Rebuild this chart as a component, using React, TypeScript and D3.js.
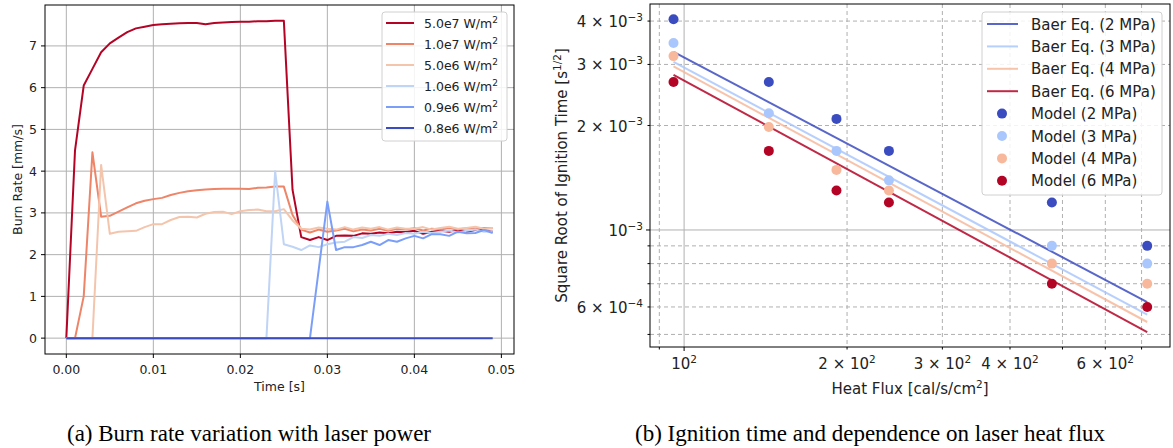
import React from "react";
import * as d3 from "d3";

// ---- (a) burn rate vs time ----
const times = d3.range(50).map((i) => i * 0.001);
const powerLabels = ["5.0e7", "1.0e7", "5.0e6", "1.0e6", "0.9e6", "0.8e6"];
const powerColors = ["#b40426", "#ee8468", "#f4c5ad", "#c0d4f5", "#7b9ff9", "#3b4cc0"];

const rate5e7 = [0, 4.5, 6.05, 6.45, 6.85, 7.06, 7.2, 7.33, 7.42, 7.46, 7.5, 7.52, 7.53, 7.54, 7.55, 7.55, 7.52, 7.55, 7.56, 7.57,
  7.58, 7.58, 7.59, 7.59, 7.6, 7.6, 3.55, 2.42, 2.35, 2.42, 2.35, 2.45, 2.46, 2.45, 2.51, 2.5, 2.53, 2.51, 2.55, 2.54,
  2.57, 2.5, 2.55, 2.57, 2.55, 2.59, 2.55, 2.59, 2.59, 2.55];
const rate1e7 = [0, 0, 1.0, 4.45, 2.91, 2.93, 3.03, 3.13, 3.23, 3.29, 3.33, 3.36, 3.43, 3.48, 3.52, 3.54, 3.56, 3.57, 3.58, 3.58,
  3.58, 3.57, 3.6, 3.61, 3.63, 3.63, 2.95, 2.6, 2.53, 2.6, 2.55, 2.58, 2.62, 2.56, 2.6, 2.58, 2.62, 2.57, 2.62, 2.6,
  2.63, 2.58, 2.62, 2.6, 2.64, 2.6, 2.63, 2.62, 2.64, 2.63];
const rate5e6 = [0, 0, 0, 0, 4.15, 2.5, 2.55, 2.56, 2.57, 2.66, 2.73, 2.73, 2.83, 2.9, 2.91, 2.89, 2.98, 3.02, 3.03, 2.97,
  3.04, 3.07, 3.08, 3.04, 3.04, 3.09, 2.82, 2.62, 2.6, 2.65, 2.62, 2.6, 2.66, 2.6, 2.65, 2.62, 2.66, 2.6, 2.65, 2.62,
  2.62, 2.66, 2.6, 2.64, 2.67, 2.62, 2.64, 2.67, 2.62, 2.64];
const rate1e6 = [0, 0, 0, 0, 0, 0, 0, 0, 0, 0, 0, 0, 0, 0, 0, 0, 0, 0, 0, 0,
  0, 0, 0, 0, 4.0, 2.25, 2.19, 2.11, 2.22, 2.18, 2.25, 2.29, 2.31, 2.42, 2.4, 2.47, 2.45, 2.5, 2.47, 2.52,
  2.5, 2.55, 2.52, 2.55, 2.58, 2.53, 2.57, 2.6, 2.55, 2.56];
const rate09e6 = [0, 0, 0, 0, 0, 0, 0, 0, 0, 0, 0, 0, 0, 0, 0, 0, 0, 0, 0, 0,
  0, 0, 0, 0, 0, 0, 0, 0, 0, 1.63, 3.27, 2.11, 2.18, 2.18, 2.23, 2.31, 2.23, 2.35, 2.31, 2.39,
  2.45, 2.39, 2.49, 2.49, 2.45, 2.55, 2.51, 2.52, 2.59, 2.52];
const rate08e6 = times.map(() => 0);
const rateSeries = [rate5e7, rate1e7, rate5e6, rate1e6, rate09e6, rate08e6];

// ---- (b) ignition time vs heat flux ----
const heatFlux = [95.6, 143.4, 191.2, 239, 478, 717];
const pressures = ["2 MPa", "3 MPa", "4 MPa", "6 MPa"];
const pressColors = ["#3b4cc0", "#aac7fd", "#f7b89c", "#b40426"];
const model2 = [4.05e-3, 2.67e-3, 2.09e-3, 1.69e-3, 1.2e-3, 9.0e-4];
const model3 = [3.46e-3, 2.17e-3, 1.69e-3, 1.39e-3, 9.0e-4, 8.0e-4];
const model4 = [3.17e-3, 1.98e-3, 1.49e-3, 1.3e-3, 8.0e-4, 7.0e-4];
const model6 = [2.67e-3, 1.69e-3, 1.3e-3, 1.2e-3, 7.0e-4, 6.0e-4];
const modelSeries = [model2, model3, model4, model6];
// Baer eq. lines, value at first and last heat flux
const baerFlux = [95.6, 717];
const baer2 = [3.26e-3, 6.2e-4];
const baer3 = [3.05e-3, 5.7e-4];
const baer4 = [2.96e-3, 5.43e-4];
const baer6 = [2.8e-3, 5.08e-4];
const baerSeries = [baer2, baer3, baer4, baer6];

const xMajor = [100];
const xMinor = [90, 200, 300, 400, 500, 600, 700];
const xMinorLabels = [[200, "2"], [300, "3"], [400, "4"], [600, "6"]];
const yMajor = [1e-3];
const yMinor = [5e-4, 6e-4, 7e-4, 8e-4, 9e-4, 2e-3, 3e-3, 4e-3];
const yMinorLabels = [[2e-3, "2", "−3"], [3e-3, "3", "−3"], [4e-3, "4", "−3"], [6e-4, "6", "−4"]];

const SANS = "DejaVu Sans, sans-serif";
const GRID = "#b0b0b0";

function BurnRateChart() {
  const m = { left: 45, right: 514, top: 5, bottom: 354 };
  const x = d3.scaleLinear().domain([-0.00245, 0.05145]).range([m.left, m.right]);
  const y = d3.scaleLinear().domain([-0.38, 7.98]).range([m.bottom, m.top]);
  const line = d3.line<number>().x((d, i) => x(times[i])).y((d) => y(d));
  const xt = d3.range(6).map((i) => i * 0.01);
  const yt = d3.range(8);
  const fs = 12.5;
  return (
    <g fontFamily={SANS}>
      {xt.map((t) => (
        <line key={"gx" + t} x1={x(t)} x2={x(t)} y1={m.top} y2={m.bottom} stroke={GRID} strokeWidth={1} />
      ))}
      {yt.map((t) => (
        <line key={"gy" + t} x1={m.left} x2={m.right} y1={y(t)} y2={y(t)} stroke={GRID} strokeWidth={1} />
      ))}
      {rateSeries.map((s, k) => (
        <path key={"l" + k} d={line(s) || ""} fill="none" stroke={powerColors[k]} strokeWidth={2} strokeLinejoin="round" />
      ))}
      <rect x={m.left} y={m.top} width={m.right - m.left} height={m.bottom - m.top} fill="none" stroke="#000" strokeWidth={1} />
      {xt.map((t) => (
        <g key={"tx" + t}>
          <line x1={x(t)} x2={x(t)} y1={m.bottom} y2={m.bottom + 4} stroke="#000" />
          <text x={x(t)} y={m.bottom + 20} fontSize={fs} textAnchor="middle" fill="#222">{t.toFixed(2)}</text>
        </g>
      ))}
      {yt.map((t) => (
        <g key={"ty" + t}>
          <line x1={m.left - 4} x2={m.left} y1={y(t)} y2={y(t)} stroke="#000" />
          <text x={m.left - 8} y={y(t) + 4.5} fontSize={fs} textAnchor="end" fill="#222">{t}</text>
        </g>
      ))}
      <text x={(m.left + m.right) / 2} y={391} fontSize={fs} textAnchor="middle" fill="#222">Time [s]</text>
      <text transform={`translate(22,${(m.top + m.bottom) / 2}) rotate(-90)`} fontSize={fs} textAnchor="middle" fill="#222">
        Burn Rate [mm/s]
      </text>
      <g>
        <rect x={382} y={12} width={125} height={129} rx={3} fill="#fff" fillOpacity={0.85} stroke="#d0d0d0" />
        {powerLabels.map((lab, k) => (
          <g key={"lg" + k} transform={`translate(0,${23 + k * 21})`}>
            <line x1={386} x2={414} y1={0} y2={0} stroke={powerColors[k]} strokeWidth={2} />
            <text x={424} y={4.5} fontSize={fs} fill="#222">
              {lab} W/m<tspan dy={-5} fontSize={9}>2</tspan>
            </text>
          </g>
        ))}
      </g>
    </g>
  );
}

function SupLabel(props: { x: number; y: number; anchor: string; base: string; exp: string; size: number }) {
  const { x, y, anchor, base, exp, size } = props;
  return (
    <text x={x} y={y} fontSize={size} textAnchor={anchor} fill="#222">
      {base}
      <tspan dy={-size * 0.42} fontSize={size * 0.7}>{exp}</tspan>
    </text>
  );
}

function IgnitionChart() {
  const m = { left: 650, right: 1170, top: 4, bottom: 347 };
  const x = d3.scaleLog().domain([86.5, 790]).range([m.left, m.right]);
  const y = d3.scaleLog().domain([4.6e-4, 4.48e-3]).range([m.bottom, m.top]);
  const fs = 15;
  return (
    <g fontFamily={SANS}>
      {xMinor.map((t) => (
        <line key={"mx" + t} x1={x(t)} x2={x(t)} y1={m.top} y2={m.bottom} stroke={GRID} strokeDasharray="4,3" />
      ))}
      {yMinor.map((t) => (
        <line key={"my" + t} x1={m.left} x2={m.right} y1={y(t)} y2={y(t)} stroke={GRID} strokeDasharray="4,3" />
      ))}
      {xMajor.map((t) => (
        <line key={"Mx" + t} x1={x(t)} x2={x(t)} y1={m.top} y2={m.bottom} stroke={GRID} />
      ))}
      {yMajor.map((t) => (
        <line key={"My" + t} x1={m.left} x2={m.right} y1={y(t)} y2={y(t)} stroke={GRID} />
      ))}
      {baerSeries.map((s, k) => (
        <line key={"b" + k} x1={x(baerFlux[0])} x2={x(baerFlux[1])} y1={y(s[0])} y2={y(s[1])}
          stroke={pressColors[k]} strokeOpacity={0.85} strokeWidth={2} />
      ))}
      {modelSeries.map((s, k) =>
        s.map((v, i) => <circle key={"p" + k + "-" + i} cx={x(heatFlux[i])} cy={y(v)} r={5} fill={pressColors[k]} />)
      )}
      <rect x={m.left} y={m.top} width={m.right - m.left} height={m.bottom - m.top} fill="none" stroke="#000" strokeWidth={1} />
      {xMajor.map((t) => (
        <g key={"tMx" + t}>
          <line x1={x(t)} x2={x(t)} y1={m.bottom} y2={m.bottom + 4} stroke="#000" />
          <SupLabel x={x(t)} y={m.bottom + 22} anchor="middle" base="10" exp="2" size={fs} />
        </g>
      ))}
      {xMinor.map((t) => (
        <line key={"tmx" + t} x1={x(t)} x2={x(t)} y1={m.bottom} y2={m.bottom + 2.5} stroke="#000" />
      ))}
      {xMinorLabels.map(([t, b]) => (
        <SupLabel key={"lx" + t} x={x(t as number)} y={m.bottom + 22} anchor="middle" base={b + " × 10"} exp="2" size={fs} />
      ))}
      {yMajor.map((t) => (
        <g key={"tMy" + t}>
          <line x1={m.left - 4} x2={m.left} y1={y(t)} y2={y(t)} stroke="#000" />
          <SupLabel x={m.left - 7} y={y(t) + 6} anchor="end" base="10" exp="−3" size={fs} />
        </g>
      ))}
      {yMinor.map((t) => (
        <line key={"tmy" + t} x1={m.left - 2.5} x2={m.left} y1={y(t)} y2={y(t)} stroke="#000" />
      ))}
      {yMinorLabels.map(([t, b, e]) => (
        <SupLabel key={"ly" + t} x={m.left - 7} y={y(t as number) + 6} anchor="end" base={b + " × 10"} exp={e as string} size={fs} />
      ))}
      <text x={(m.left + m.right) / 2} y={394} fontSize={fs} textAnchor="middle" fill="#222">
        Heat Flux [cal/s/cm<tspan dy={-6} fontSize={10.5}>2</tspan><tspan dy={6}>]</tspan>
      </text>
      <text transform={`translate(567,${(m.top + m.bottom) / 2}) rotate(-90)`} fontSize={fs} textAnchor="middle" fill="#222">
        Square Root of Ignition Time  [s<tspan dy={-6} fontSize={10.5}>1/2</tspan><tspan dy={6}>]</tspan>
      </text>
      <g>
        <rect x={982} y={12} width={180} height={183} rx={3} fill="#fff" fillOpacity={0.85} stroke="#d0d0d0" />
        {pressures.map((p, k) => (
          <g key={"lb" + k} transform={`translate(0,${24 + k * 22.4})`}>
            <line x1={987} x2={1018} y1={0} y2={0} stroke={pressColors[k]} strokeOpacity={0.85} strokeWidth={2} />
            <text x={1031} y={5.5} fontSize={fs} fill="#222">Baer Eq. ({p})</text>
          </g>
        ))}
        {pressures.map((p, k) => (
          <g key={"lm" + k} transform={`translate(0,${113.6 + k * 22.4})`}>
            <circle cx={1002} cy={0} r={5} fill={pressColors[k]} />
            <text x={1031} y={5.5} fontSize={fs} fill="#222">Model ({p})</text>
          </g>
        ))}
      </g>
    </g>
  );
}

export default function App() {
  return (
    <svg width={1173} height={448} style={{ position: "absolute", left: 0, top: 0, background: "#fff" }}>
      <rect width={1173} height={448} fill="#fff" />
      <BurnRateChart />
      <IgnitionChart />
      <text x={249} y={441} fontFamily="Liberation Serif, serif" fontSize={23} textAnchor="middle" fill="#000">
        (a) Burn rate variation with laser power
      </text>
      <text x={870} y={441} fontFamily="Liberation Serif, serif" fontSize={23} textAnchor="middle" fill="#000">
        (b) Ignition time and dependence on laser heat flux
      </text>
    </svg>
  );
}
